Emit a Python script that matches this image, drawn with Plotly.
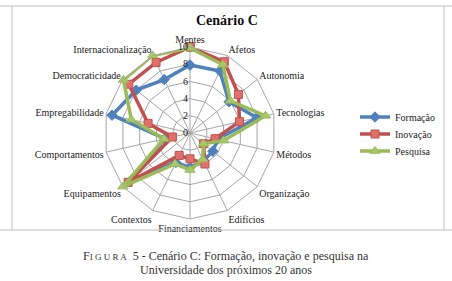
import plotly.graph_objects as go

categories = ["Mentes", "Afetos", "Autonomia", "Tecnologias", "Métodos", "Organização",
              "Edifícios", "Financiamentos", "Contextos", "Equipamentos", "Comportamentos",
              "Empregabilidade", "Democraticidade", "Internacionalização"]
formacao = [7.9, 8.0, 5.8, 8.0, 3.3, 3.4, 3.6, 4.0, 3.8, 8.7, 3.0, 9.3, 8.0, 6.9]
inovacao = [10.0, 9.2, 7.2, 5.9, 3.0, 2.0, 4.0, 3.0, 2.9, 9.2, 2.1, 5.0, 9.1, 9.1]
pesquisa = [9.9, 8.8, 6.0, 9.0, 4.0, 2.0, 3.4, 4.3, 4.0, 10.0, 3.1, 7.0, 9.9, 10.0]
series_names = ["Formação", "Inovação", "Pesquisa"]
radial_ticks = [0, 2, 4, 6, 8, 10]

W, H = 452, 281
cx, cy, R = 190, 133, 86

colors = ["#4F81BD", "#C0504D", "#9BBB59"]
fills = ["#4F81BD", "#E0706C", "#A8C86A"]
symbols = ["diamond", "square", "triangle-up"]
msizes = [8, 8, 9]
legend_ids = ["legend", "legend2", "legend3"]
legend_y = [117, 134, 151]

serif = "Liberation Serif"

fig = go.Figure()
for name, vals, c, f, s, ms, lid in zip(series_names, [formacao, inovacao, pesquisa], colors, fills,
                                         symbols, msizes, legend_ids):
    fig.add_trace(go.Scatterpolar(
        r=vals + vals[:1], theta=categories + categories[:1], name=name,
        mode="lines+markers", legend=lid,
        line=dict(color=c, width=3.5),
        marker=dict(symbol=s, size=ms, color=f, line=dict(color=c, width=1)),
    ))

legend_style = dict(x=355 / W, xanchor="left", yanchor="middle",
                    font=dict(family=serif, size=10, color="#222"),
                    bgcolor="rgba(0,0,0,0)")
fig.update_layout(
    width=W, height=H,
    margin=dict(l=0, r=0, t=0, b=0),
    paper_bgcolor="white", plot_bgcolor="white",
    font=dict(family=serif, size=10, color="#222"),
    polar=dict(
        domain=dict(x=[(cx - R) / W, (cx + R) / W], y=[(H - cy - R) / H, (H - cy + R) / H]),
        gridshape="linear",
        bgcolor="white",
        radialaxis=dict(range=[0, 10], tickvals=radial_ticks, angle=90, tickangle=90,
                        side="counterclockwise",
                        showline=False, ticks="", gridcolor="#A6A6A6", gridwidth=1,
                        tickfont=dict(family=serif, size=10, color="#222")),
        angularaxis=dict(direction="clockwise", rotation=90, ticks="",
                         linecolor="#A6A6A6", gridcolor="#A6A6A6",
                         tickfont=dict(family=serif, size=10, color="#222")),
    ),
    legend=dict(y=1 - legend_y[0] / H, **legend_style),
    legend2=dict(y=1 - legend_y[1] / H, **legend_style),
    legend3=dict(y=1 - legend_y[2] / H, **legend_style),
    showlegend=True,
)

fig.add_annotation(x=227 / W, y=1 - 21 / H, xref="paper", yref="paper", showarrow=False,
                   xanchor="center", yanchor="middle",
                   text="<b>Cenário C</b>", font=dict(family=serif, size=14, color="#111"))
fig.add_annotation(x=226 / W, y=1 - 256 / H, xref="paper", yref="paper", showarrow=False,
                   xanchor="center", yanchor="middle", borderpad=0,
                   text="F<span style='font-size:9px'>I G U R A</span>  5 - Cenário C: Formação, inovação e pesquisa na",
                   font=dict(family=serif, size=12, color="#333"))
fig.add_annotation(x=226 / W, y=1 - 270 / H, xref="paper", yref="paper", showarrow=False,
                   xanchor="center", yanchor="middle", borderpad=0,
                   text="Universidade dos próximos 20 anos",
                   font=dict(family=serif, size=12, color="#333"))

# chart frame
frame = dict(color="#BFBFBF", width=1)
fig.add_shape(type="line", xref="paper", yref="paper", x0=0, x1=1, y0=1 - 6 / H, y1=1 - 6 / H, line=frame)
fig.add_shape(type="line", xref="paper", yref="paper", x0=12 / W, x1=12 / W, y0=1 - 6 / H, y1=1 - 230 / H, line=frame)
fig.add_shape(type="line", xref="paper", yref="paper", x0=444 / W, x1=444 / W, y0=1 - 6 / H, y1=1 - 230 / H, line=frame)
fig.add_shape(type="line", xref="paper", yref="paper", x0=0, x1=1, y0=1 - 230 / H, y1=1 - 230 / H, line=frame)

fig.write_html("out.html", config={"displayModeBar": False},
               post_script="document.body.style.margin='0';document.body.style.overflow='hidden';")
